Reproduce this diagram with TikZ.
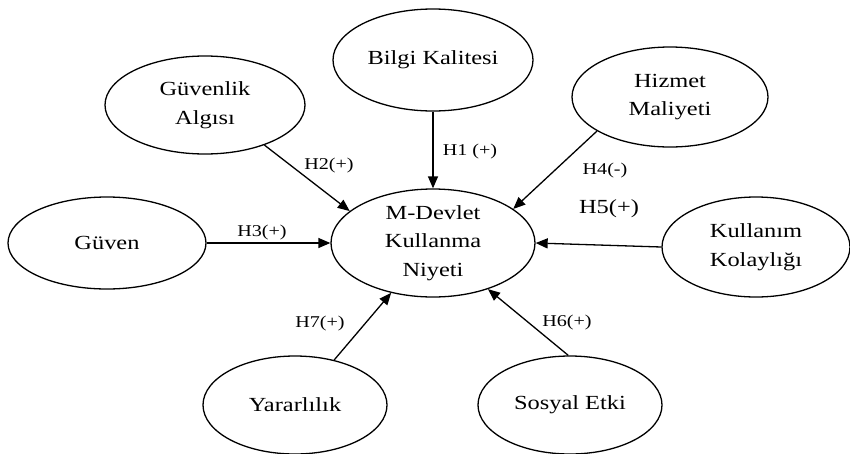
\documentclass[tikz,border=0pt]{standalone}
\usepackage{fontspec}
\setmainfont{Liberation Serif}[FakeStretch=1.22]
\usetikzlibrary{shapes.geometric,arrows.meta}
\begin{document}
\begin{tikzpicture}[x=1pt,y=-1pt,
  ell/.style={draw,ellipse,line width=1.3pt,inner sep=0pt,align=center,font=\fontsize{20}{28.5}\selectfont},
  conn/.style={line width=1.3pt,-{Triangle[length=12pt,width=10pt]}},
  lbl/.style={font=\fontsize{16.5}{18}\selectfont,inner sep=0pt},
  biglbl/.style={font=\fontsize{20}{22}\selectfont,inner sep=0pt}]
\useasboundingbox (0,0) rectangle (850,453);
\node[ell,minimum width=200pt,minimum height=102pt] (bk) at (433,60) {Bilgi Kalitesi};
\node[ell,minimum width=200pt,minimum height=98pt] (ga) at (205,105) {Güvenlik\\Algısı};
\node[ell,minimum width=196pt,minimum height=100pt] (hm) at (670,97) {Hizmet\\Maliyeti};
\node[ell,minimum width=198pt,minimum height=92pt] (gu) at (107,243) {Güven};
\node[ell,minimum width=204pt,minimum height=108pt] (md) at (433,243) {M-Devlet\\Kullanma\\Niyeti};
\node[ell,minimum width=188pt,minimum height=100pt] (kk) at (756,247) {Kullanım\\Kolaylığı};
\node[ell,minimum width=184pt,minimum height=98pt] (ya) at (295,405) {Yararlılık};
\node[ell,minimum width=184pt,minimum height=98pt] (se) at (570,405) {Sosyal Etki};

\draw[conn] (bk.south) -- (md.north);
\draw[conn] (ga.-34) -- (md.159);
\draw[conn] (gu.east) -- (md.west);
\draw[conn] (hm.-155) -- (md.23);
\draw[conn] (kk.west) -- (md.east);
\draw[conn] (se.92) -- (md.-40);
\draw[conn] (ya.49) -- (md.-130);

\node[lbl] (l1) at (470,152) {H1 (+)};
\node[lbl] (l2) at (329,166) {H2(+)};
\node[lbl] (l3) at (262,233) {H3(+)};
\node[lbl] (l4) at (605,171) {H4(-)};
\node[biglbl] (l5) at (609,209) {H5(+)};
\node[lbl] (l6) at (567,323) {H6(+)};
\node[lbl] (l7) at (320,324) {H7(+)};
\end{tikzpicture}
\end{document}
